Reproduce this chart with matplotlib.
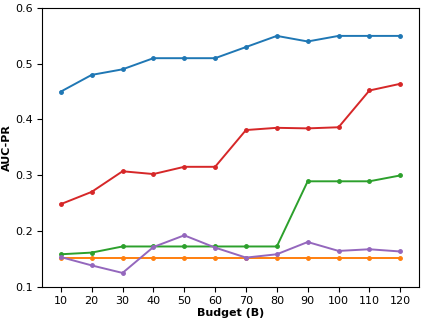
import matplotlib
matplotlib.use("Agg")
import matplotlib.pyplot as plt

budget = [10, 20, 30, 40, 50, 60, 70, 80, 90, 100, 110, 120]
blue = [0.45, 0.48, 0.49, 0.51, 0.51, 0.51, 0.53, 0.55, 0.54, 0.55, 0.55, 0.55]
orange = [0.151] * 12
green = [0.158, 0.161, 0.172, 0.172, 0.172, 0.172, 0.172, 0.172, 0.289, 0.289, 0.289, 0.2995]
red = [0.248, 0.270, 0.307, 0.302, 0.315, 0.315, 0.381, 0.385, 0.384, 0.386, 0.452, 0.464]
purple = [0.153, 0.138, 0.1245, 0.171, 0.192, 0.170, 0.152, 0.158, 0.180, 0.164, 0.167, 0.163]

fig, ax = plt.subplots(figsize=(4.23, 3.22), dpi=100)
for ys, c in [(blue, "C0"), (orange, "C1"), (green, "C2"), (red, "C3"), (purple, "C4")]:
    ax.plot(budget, ys, color=c, marker="o", markersize=2.5, linewidth=1.4)

ax.set_xticks(budget)
ax.set_ylim(0.1, 0.6)
ax.set_xlim(4, 126)
ax.tick_params(labelsize=8)
ax.set_xlabel("Budget (B)", fontsize=8, fontweight="bold", labelpad=1)
ax.set_ylabel("AUC-PR", fontsize=8, fontweight="bold", labelpad=2)
plt.subplots_adjust(left=0.10, right=0.99, top=0.975, bottom=0.11)
plt.savefig("out.png")
